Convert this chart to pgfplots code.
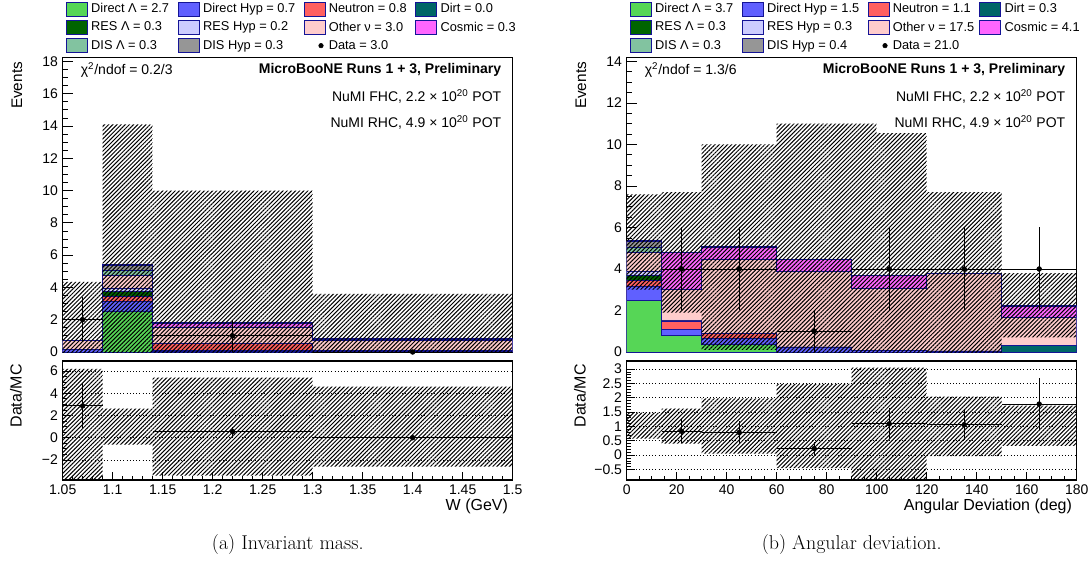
\documentclass[border=0pt]{standalone}
\usepackage{fontspec}
\usepackage{pgfplots}
\usepackage{pgfplotstable}
\pgfplotsset{compat=1.18}
\usetikzlibrary{patterns.meta}
\newfontfamily\hv{Liberation Sans}

\definecolor{cDirL}{RGB}{86,214,86}
\definecolor{cDirH}{RGB}{96,96,255}
\definecolor{cNeut}{RGB}{255,96,96}
\definecolor{cDirt}{RGB}{0,102,102}
\definecolor{cResL}{RGB}{0,100,0}
\definecolor{cResH}{RGB}{204,204,255}
\definecolor{cOth}{RGB}{255,204,204}
\definecolor{cCos}{RGB}{255,102,255}
\definecolor{cDisL}{RGB}{130,195,160}
\definecolor{cDisH}{RGB}{150,150,150}
\definecolor{cEdge}{RGB}{20,20,150}

% cumulative stack levels: c1 Dirt, c2 +Direct Lambda, c3 +Direct Hyp, c4 +Neutron,
% c5 +RES Lambda, c6 +RES Hyp, c7 +Other nu, c8 +DIS Lambda, c9 +DIS Hyp, c10 +Cosmic
\pgfplotstableread{
x c1 c2 c3 c4 c5 c6 c7 c8 c9 c10
1.05 0 0 0.15 0.15 0.15 0.15 0.70 0.70 0.70 0.70
1.09 0 2.55 3.15 3.45 3.75 3.95 4.75 5.05 5.35 5.40
1.14 0 0.05 0.10 0.55 0.55 0.55 1.55 1.55 1.55 1.80
1.30 0 0 0.05 0.10 0.10 0.10 0.75 0.75 0.75 0.80
1.50 0 0 0.05 0.10 0.10 0.10 0.75 0.75 0.75 0.80
}\stackW

\pgfplotstableread{
x c1 c2 c3 c4 c5 c6 c7 c8 c9 c10
0 0 2.5 3.15 3.45 3.7 3.9 4.8 5.05 5.35 5.35
14 0 0.8 1.1 1.5 1.5 1.55 3.0 3.0 3.0 4.8
30 0 0.35 0.65 0.9 0.9 0.9 4.45 4.45 4.45 5.05
60 0 0 0.25 0.25 0.25 0.25 3.9 3.9 3.9 4.45
90 0 0 0.08 0.08 0.08 0.08 3.08 3.08 3.08 3.68
120 0 0 0.05 0.05 0.05 0.05 3.78 3.78 3.78 3.78
150 0.33 0.33 0.33 0.33 0.33 0.33 1.67 1.67 1.67 2.22
180 0.33 0.33 0.33 0.33 0.33 0.33 1.67 1.67 1.67 2.22
}\stackA

\newcommand\stackplot[1]{%
 \addplot[const plot, fill=cCos, draw=cEdge, line width=0.4pt, forget plot] table[x=x,y=c10]{#1} \closedcycle;
 \addplot[const plot, fill=cDisH, draw=cEdge, line width=0.4pt, forget plot] table[x=x,y=c9]{#1} \closedcycle;
 \addplot[const plot, fill=cDisL, draw=cEdge, line width=0.4pt, forget plot] table[x=x,y=c8]{#1} \closedcycle;
 \addplot[const plot, fill=cOth, draw=cEdge, line width=0.4pt, forget plot] table[x=x,y=c7]{#1} \closedcycle;
 \addplot[const plot, fill=cResH, draw=cEdge, line width=0.4pt, forget plot] table[x=x,y=c6]{#1} \closedcycle;
 \addplot[const plot, fill=cResL, draw=cEdge, line width=0.4pt, forget plot] table[x=x,y=c5]{#1} \closedcycle;
 \addplot[const plot, fill=cNeut, draw=cEdge, line width=0.4pt, forget plot] table[x=x,y=c4]{#1} \closedcycle;
 \addplot[const plot, fill=cDirH, draw=cEdge, line width=0.4pt, forget plot] table[x=x,y=c3]{#1} \closedcycle;
 \addplot[const plot, fill=cDirL, draw=cEdge, line width=0.4pt, forget plot] table[x=x,y=c2]{#1} \closedcycle;
 \addplot[const plot, fill=cDirt, draw=cEdge, line width=0.4pt, forget plot] table[x=x,y=c1]{#1} \closedcycle;
 \addplot[const plot, draw=cEdge, line width=1.2pt, forget plot] table[x=x,y=c10]{#1};
}

\pgfplotsset{
 base/.style={scale only axis, width=337.5pt,
   axis line style={line width=0.8pt},
   tick style={black, line width=0.55pt},
   xtick pos=bottom, ytick pos=left, tick align=inside,
   clip mode=individual, enlargelimits=false,
   font=\hv\fontsize{10.5}{12}\selectfont},
 band/.style={draw=none, forget plot, pattern={Lines[angle=45,distance=2.2pt,line width=0.75pt]}, pattern color=black},
 dat/.style={only marks, mark=*, mark size=1.8pt, black, forget plot,
   error bars/.cd, x dir=both, x explicit, y dir=both, y explicit,
   error mark=none, error bar style={line width=0.7pt, black}},
 legbox/.style={legend image code/.code={\filldraw[fill=#1,draw=cEdge,line width=0.6pt] (0pt,-5.25pt) rectangle (15.75pt,5.25pt);}},
 legdat/.style={legend image code/.code={\path[draw=none,fill=none] (0pt,-5.25pt) rectangle (15.75pt,5.25pt); \fill[black] (12.8pt,0pt) circle (1.7pt);}},
 leg/.style={legend columns=4, legend cell align=left,
   legend style={at={(0.0073,1.1887)}, anchor=north west, draw=none, fill=none,
     inner sep=0pt, outer sep=0pt, column sep=0pt, row sep=2.6pt,
     nodes={inner sep=0pt}, font=\hv\fontsize{9.6}{11}\selectfont}},
}
\newcommand\ca[1]{\makebox[67.6pt][l]{\hspace{2.6pt}#1}}
\newcommand\cb[1]{\makebox[77.9pt][l]{\hspace{2.6pt}#1}}
\newcommand\cc[1]{\makebox[67.5pt][l]{\hspace{2.6pt}#1}}
\newcommand\cd[1]{\makebox[62pt][l]{\hspace{2.6pt}#1}}
\newcommand\txtfont{\hv\fontsize{10.5}{12}\selectfont}

\begin{document}
\begin{tikzpicture}
\useasboundingbox (0,0) rectangle (818.25pt,420.75pt);

% ================= LEFT MAIN =================
\begin{axis}[base, leg, at={(47pt,156.75pt)}, anchor=south west, height=221pt,
  xmin=1.05, xmax=1.5, ymin=0, ymax=18.25,
  xtick={1.05,1.1,1.15,1.2,1.25,1.3,1.35,1.4,1.45,1.5}, xticklabels={}, minor x tick num=4,
  ytick={0,2,4,6,8,10,12,14,16,18}, yticklabels={0,2,4,6,8,10,12,14,16,18}, minor y tick num=3,
  major tick length=8pt, minor tick length=4pt]
 \addlegendimage{legbox=cDirL}\addlegendentry{\ca{Direct Λ = 2.7}}
 \addlegendimage{legbox=cDirH}\addlegendentry{\cb{Direct Hyp = 0.7}}
 \addlegendimage{legbox=cNeut}\addlegendentry{\cc{Neutron = 0.8}}
 \addlegendimage{legbox=cDirt}\addlegendentry{\cd{Dirt = 0.0}}
 \addlegendimage{legbox=cResL}\addlegendentry{\ca{RES Λ = 0.3}}
 \addlegendimage{legbox=cResH}\addlegendentry{\cb{RES Hyp = 0.2}}
 \addlegendimage{legbox=cOth}\addlegendentry{\cc{Other ν = 3.0}}
 \addlegendimage{legbox=cCos}\addlegendentry{\cd{Cosmic = 0.3}}
 \addlegendimage{legbox=cDisL}\addlegendentry{\ca{DIS Λ = 0.3}}
 \addlegendimage{legbox=cDisH}\addlegendentry{\cb{DIS Hyp = 0.3}}
 \addlegendimage{legdat}\addlegendentry{\cc{Data = 3.0}}
 \stackplot{\stackW}
 \addplot[band] coordinates {(1.05,4.35)(1.09,4.35)(1.09,14.1)(1.14,14.1)(1.14,10.0)(1.30,10.0)(1.30,3.6)(1.50,3.6)(1.50,-1)(1.05,-1)} -- cycle;
 \addplot[dat] coordinates {(1.07,2) +- (0.02,1.4) (1.22,1) +- (0.08,1.0) (1.40,0) +- (0.10,0)};
 \node[anchor=west, font=\txtfont] at (rel axis cs:0.03,0.958) {χ\textsuperscript{2}/ndof = 0.2/3};
 \node[anchor=east, font=\txtfont\bfseries] at (rel axis cs:0.985,0.958) {MicroBooNE Runs 1 + 3, Preliminary};
 \node[anchor=east, font=\txtfont] at (rel axis cs:0.985,0.866) {NuMI FHC, 2.2 × 10\textsuperscript{20} POT};
 \node[anchor=east, font=\txtfont] at (rel axis cs:0.985,0.778) {NuMI RHC, 4.9 × 10\textsuperscript{20} POT};
 \node[xshift=-34.3pt, rotate=90, anchor=east, font=\hv\fontsize{11.5}{13}\selectfont] at (rel axis cs:0,1) {Events};
\end{axis}

% ================= LEFT RATIO =================
\begin{axis}[base, at={(47pt,60.75pt)}, anchor=south west, height=89.25pt,
  xmin=1.05, xmax=1.5, ymin=-3.8, ymax=6.9,
  xtick={1.05,1.1,1.15,1.2,1.25,1.3,1.35,1.4,1.45,1.5},
  xticklabels={1.05,1.1,1.15,1.2,1.25,1.3,1.35,1.4,1.45,1.5}, minor x tick num=4,
  ytick={-2,0,2,4,6}, yticklabels={−2,0,2,4,6}, minor y tick num=3,
  ymajorgrids, major grid style={dotted, black, line width=0.6pt},
  major tick length=6pt, minor tick length=3pt]
 \addplot[band] coordinates {(1.05,6.2)(1.09,6.2)(1.09,2.62)(1.14,2.62)(1.14,5.4)(1.30,5.4)(1.30,4.6)(1.50,4.6)(1.50,-2.6)(1.30,-2.6)(1.30,-3.4)(1.14,-3.4)(1.14,-0.62)(1.09,-0.62)(1.09,-4.2)(1.05,-4.2)} -- cycle;
 \addplot[dat] coordinates {(1.07,2.86) += (0.02,2.04) -= (0.02,1.98) (1.22,0.55) += (0.08,0.39) -= (0.08,0.43) (1.40,0) += (0.10,0) -= (0.10,0)};
 \node[xshift=-35pt, yshift=1pt, rotate=90, anchor=east, font=\hv\fontsize{12}{14}\selectfont] at (rel axis cs:0,1) {Data/MC};
 \node[anchor=east, font=\hv\fontsize{12}{14}\selectfont, yshift=-19.5pt] at (rel axis cs:1,0) {W (GeV)};
\end{axis}

% ================= RIGHT MAIN =================
\begin{axis}[base, leg, at={(470pt,156.75pt)}, anchor=south west, height=221pt,
  xmin=0, xmax=180, ymin=0, ymax=14.2,
  xtick={0,20,40,60,80,100,120,140,160,180}, xticklabels={}, minor x tick num=3,
  ytick={0,2,4,6,8,10,12,14}, yticklabels={0,2,4,6,8,10,12,14}, minor y tick num=3,
  major tick length=8pt, minor tick length=4pt]
 \addlegendimage{legbox=cDirL}\addlegendentry{\ca{Direct Λ = 3.7}}
 \addlegendimage{legbox=cDirH}\addlegendentry{\cb{Direct Hyp = 1.5}}
 \addlegendimage{legbox=cNeut}\addlegendentry{\cc{Neutron = 1.1}}
 \addlegendimage{legbox=cDirt}\addlegendentry{\cd{Dirt = 0.3}}
 \addlegendimage{legbox=cResL}\addlegendentry{\ca{RES Λ = 0.3}}
 \addlegendimage{legbox=cResH}\addlegendentry{\cb{RES Hyp = 0.3}}
 \addlegendimage{legbox=cOth}\addlegendentry{\cc{Other ν = 17.5}}
 \addlegendimage{legbox=cCos}\addlegendentry{\cd{Cosmic = 4.1}}
 \addlegendimage{legbox=cDisL}\addlegendentry{\ca{DIS Λ = 0.3}}
 \addlegendimage{legbox=cDisH}\addlegendentry{\cb{DIS Hyp = 0.4}}
 \addlegendimage{legdat}\addlegendentry{\cc{Data = 21.0}}
 \stackplot{\stackA}
 \addplot[band] coordinates {(0,7.6)(14,7.6)(14,7.7)(30,7.7)(30,10.0)(60,10.0)(60,11.0)(100,11.0)(100,10.55)(120,10.55)(120,7.7)(150,7.7)(150,3.8)(180,3.8)(180,0.7)(150,0.7)(150,-0.1)(120,-0.1)(120,-3)(60,-3)(60,0.1)(30,0.1)(30,1.9)(14,1.9)(14,3.0)(0,3.0)} -- cycle;
 \addplot[dat] coordinates {(22,4) +- (8,2) (45,4) +- (15,2) (75,1) +- (15,1) (105,4) +- (15,2) (135,4) +- (15,2) (165,4) +- (15,2)};
 \node[anchor=west, font=\txtfont] at (rel axis cs:0.03,0.958) {χ\textsuperscript{2}/ndof = 1.3/6};
 \node[anchor=east, font=\txtfont\bfseries] at (rel axis cs:0.985,0.958) {MicroBooNE Runs 1 + 3, Preliminary};
 \node[anchor=east, font=\txtfont] at (rel axis cs:0.985,0.866) {NuMI FHC, 2.2 × 10\textsuperscript{20} POT};
 \node[anchor=east, font=\txtfont] at (rel axis cs:0.985,0.778) {NuMI RHC, 4.9 × 10\textsuperscript{20} POT};
 \node[xshift=-34.3pt, rotate=90, anchor=east, font=\hv\fontsize{11.5}{13}\selectfont] at (rel axis cs:0,1) {Events};
\end{axis}

% ================= RIGHT RATIO =================
\begin{axis}[base, at={(470pt,60.75pt)}, anchor=south west, height=89.25pt,
  xmin=0, xmax=180, ymin=-0.865, ymax=3.28,
  xtick={0,20,40,60,80,100,120,140,160,180},
  xticklabels={0,20,40,60,80,100,120,140,160,180}, minor x tick num=3,
  ytick={-0.5,0,0.5,1,1.5,2,2.5,3}, yticklabels={−0.5,0,0.5,1,1.5,2,2.5,3}, minor y tick num=4,
  ymajorgrids, major grid style={dotted, black, line width=0.6pt},
  major tick length=6pt, minor tick length=3pt]
 \addplot[band] coordinates {(0,1.48)(14,1.48)(14,1.62)(30,1.62)(30,1.98)(60,1.98)(60,2.48)(90,2.48)(90,3.05)(120,3.05)(120,2.04)(150,2.04)(150,1.73)(180,1.73)(180,0.32)(150,0.32)(150,-0.03)(120,-0.03)(120,-0.95)(90,-0.95)(90,-0.45)(60,-0.45)(60,0.05)(30,0.05)(30,0.4)(14,0.4)(14,0.58)(0,0.58)} -- cycle;
 \addplot[dat] coordinates {(22,0.83) += (8,0.42) -= (8,0.41) (45,0.79) += (15,0.41) -= (15,0.41) (75,0.23) += (15,0.23) -= (15,0.23) (105,1.09) += (15,0.55) -= (15,0.53) (135,1.06) += (15,0.52) -= (15,0.53) (165,1.78) += (15,0.9) -= (15,0.89)};
 \node[xshift=-35pt, yshift=1pt, rotate=90, anchor=east, font=\hv\fontsize{12}{14}\selectfont] at (rel axis cs:0,1) {Data/MC};
 \node[anchor=east, font=\hv\fontsize{12}{14}\selectfont, yshift=-19.5pt] at (rel axis cs:1,0) {Angular Deviation (deg)};
\end{axis}

\node[font=\fontsize{15}{18}\selectfont] at (215.8pt,12pt) {(a) Invariant mass.};
\node[font=\fontsize{15}{18}\selectfont] at (638.8pt,12pt) {(b) Angular deviation.};
\end{tikzpicture}
\end{document}
